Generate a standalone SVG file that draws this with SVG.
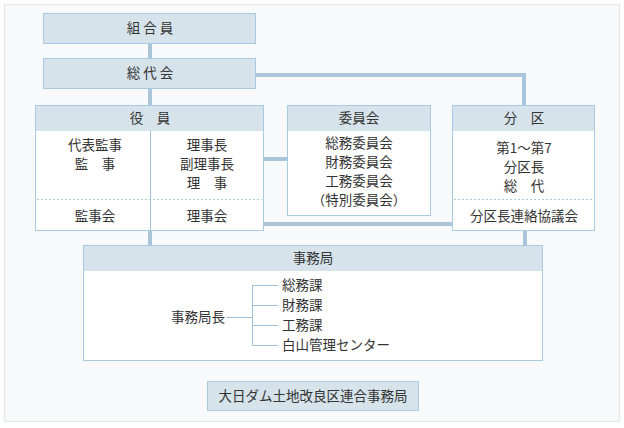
<svg xmlns="http://www.w3.org/2000/svg" width="624" height="428" viewBox="0 0 624 428">
<style>
text{font-family:"Noto Sans CJK JP","Noto Sans",sans-serif;font-size:13.5px;fill:#333;text-anchor:middle}
.box{fill:#fff;stroke:#a9cbe2;stroke-width:1}
.hd{fill:#d6e3ea;stroke:#a9cbe2;stroke-width:1}
.hf{fill:#d6e3ea}
.con{stroke:#a9c5d9;stroke-width:4;fill:none}
.thin{stroke:#9fc0d6;stroke-width:1;fill:none}
.dot{stroke:#a9cbe2;stroke-width:1;stroke-dasharray:2 2}
.sp{letter-spacing:3px}
</style>
<rect x="4.5" y="4.5" width="615" height="417" fill="#f8f9fb" stroke="#e4e6e9"/>
<g id="connectors">
<path class="con" d="M150 43V58M150 88V106M256 75H524V106M264 159H287M264 224H452M150 230V246M525 230V246"/>
</g>
<g id="kumiaiin">
<rect class="hd" x="43.5" y="13.5" width="212" height="30"/>
<text class="sp" x="151.5" y="33">組合員</text>
</g>
<g id="soudaikai">
<rect class="hd" x="43.5" y="58.5" width="212" height="30"/>
<text class="sp" x="151.5" y="78">総代会</text>
</g>
<g id="yakuin">
<rect class="box" x="35.5" y="105.5" width="228" height="125"/>
<rect class="hf" x="36" y="106" width="227" height="25"/>
<line class="thin" x1="150.5" y1="131" x2="150.5" y2="230" stroke="#a9cbe2"/>
<line class="dot" x1="37" y1="199.5" x2="262" y2="199.5"/>
<text x="150" y="123">役　員</text>
<text x="95" y="150">代表監事</text>
<text x="95" y="169">監　事</text>
<text x="207" y="150">理事長</text>
<text x="207" y="169">副理事長</text>
<text x="207" y="188">理　事</text>
<text x="95" y="221">監事会</text>
<text x="207" y="221">理事会</text>
</g>
<g id="iinkai">
<rect class="box" x="287.5" y="105.5" width="143" height="110"/>
<rect class="hf" x="288" y="106" width="142" height="25"/>
<text x="359" y="123">委員会</text>
<text x="359" y="148">総務委員会</text>
<text x="359" y="167">財務委員会</text>
<text x="359" y="186">工務委員会</text>
<text x="359" y="205">（特別委員会）</text>
</g>
<g id="bunku">
<rect class="box" x="452.5" y="105.5" width="142" height="125"/>
<rect class="hf" x="453" y="106" width="141" height="25"/>
<line class="dot" x1="454" y1="199.5" x2="593" y2="199.5"/>
<text x="524" y="123">分　区</text>
<text x="524" y="153">第1～第7</text>
<text x="524" y="172">分区長</text>
<text x="524" y="191">総　代</text>
<text x="524" y="221">分区長連絡協議会</text>
</g>
<g id="jimukyoku">
<rect class="box" x="83.5" y="245.5" width="459" height="115"/>
<rect class="hf" x="84" y="246" width="458" height="25"/>
<text x="313" y="263">事務局</text>
<text x="198" y="322">事務局長</text>
<path class="thin" d="M227 317.5H252.5M252.5 285V345M252.5 285.5H278M252.5 305.5H278M252.5 325.5H278M252.5 345.5H278"/>
<text x="282" y="290" style="text-anchor:start">総務課</text>
<text x="282" y="310" style="text-anchor:start">財務課</text>
<text x="282" y="330" style="text-anchor:start">工務課</text>
<text x="282" y="350" style="text-anchor:start">白山管理センター</text>
</g>
<g id="rengou">
<rect class="hd" x="207.5" y="381.5" width="211" height="29"/>
<text x="313" y="401">大日ダム土地改良区連合事務局</text>
</g>
</svg>
